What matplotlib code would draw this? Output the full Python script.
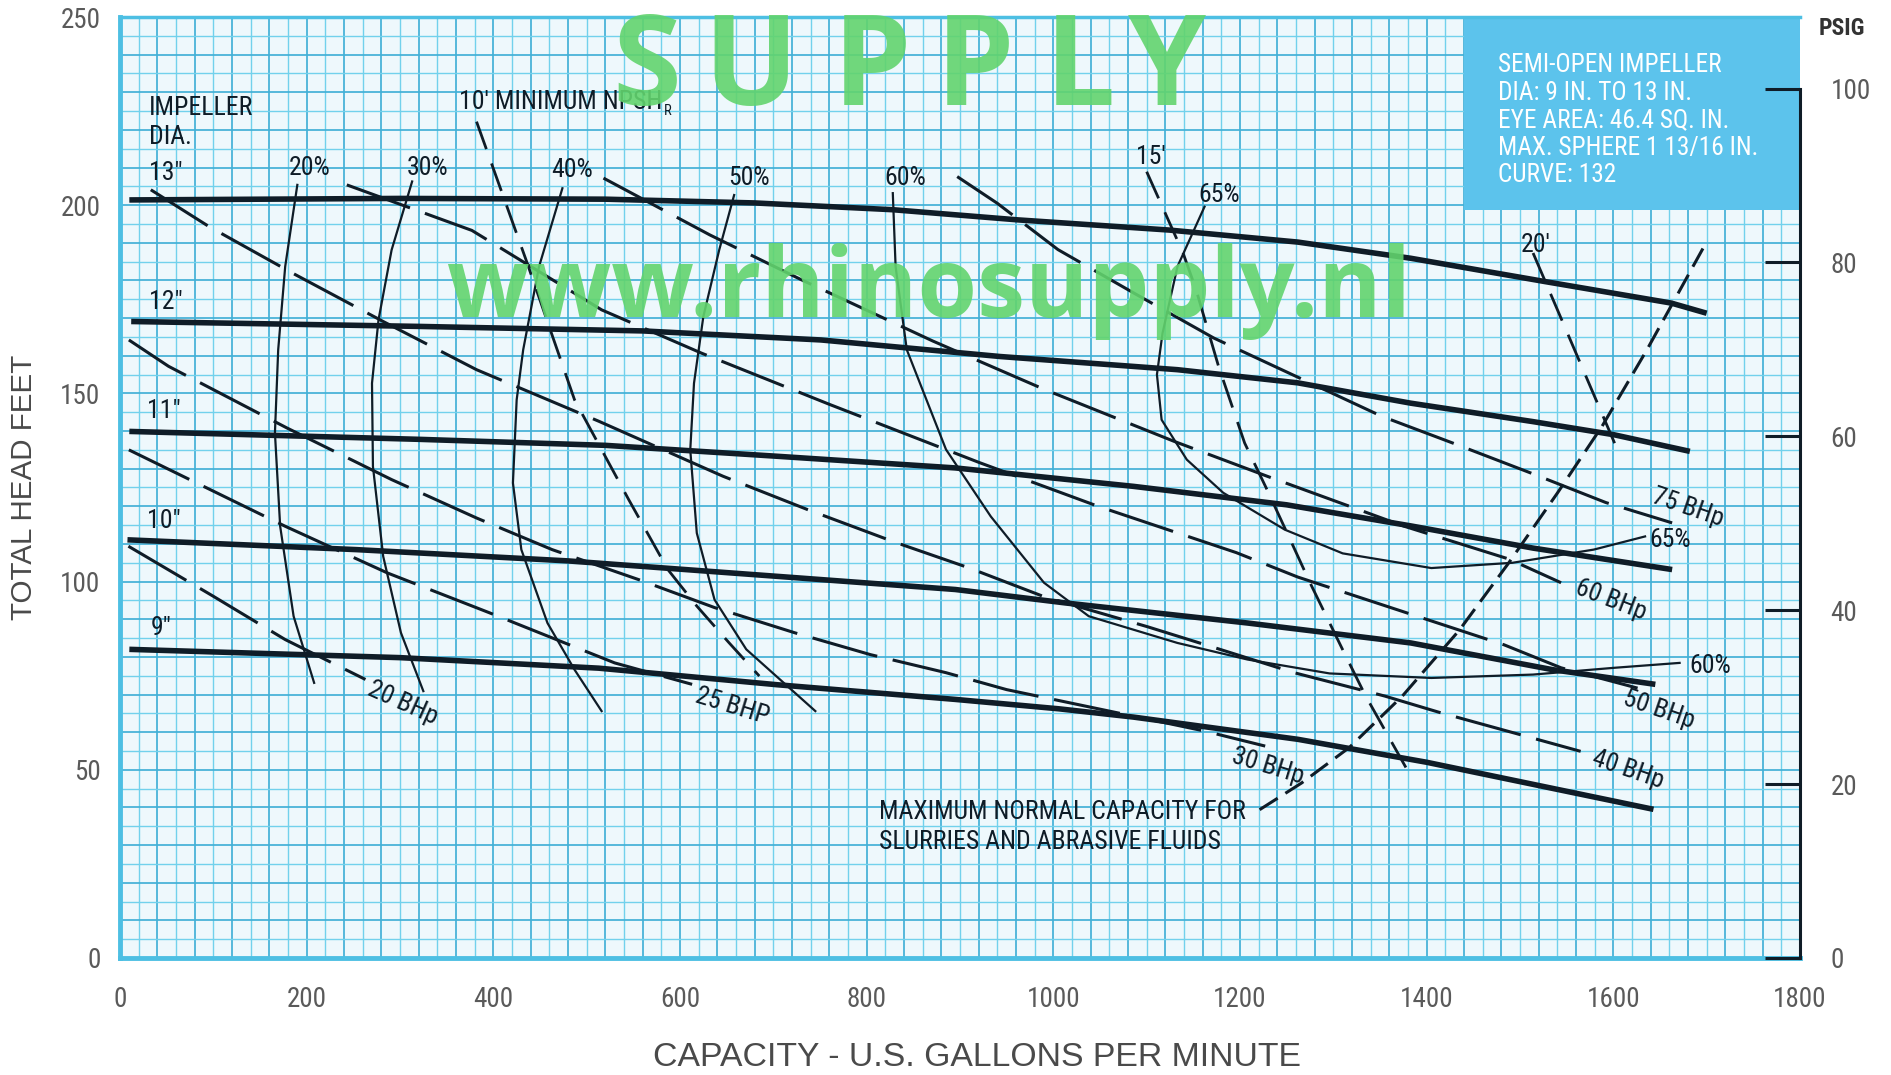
import matplotlib
matplotlib.use("Agg")
import matplotlib.pyplot as plt
from matplotlib import font_manager as fm
from matplotlib.patches import Rectangle
import numpy as np

# ---------------------------------------------------------------- data
# head-capacity curves per impeller diameter: (US gpm, total head ft)
imp_13 = [(10, 201.4), (300, 201.8), (520, 201.6), (680, 200.6), (828, 198.8), (962, 196.1), (1124, 193.4),
          (1262, 190.2), (1383, 185.9), (1527, 179.7), (1662, 174.0), (1700, 171.3)]
imp_12 = [(12, 169.1), (320, 167.8), (560, 166.6), (751, 164.2), (943, 159.8), (1133, 156.3),
          (1262, 152.8), (1383, 147.4), (1514, 142.5), (1601, 139.0), (1682, 134.6)]
imp_11 = [(10, 139.9), (320, 137.8), (520, 136.2), (704, 133.3), (895, 130.2), (1086, 125.3),
          (1250, 120.4), (1383, 114.8), (1514, 108.9), (1663, 103.2)]
imp_10 = [(8, 111.1), (253, 108.5), (480, 105.5), (704, 101.4), (895, 97.9), (1014, 94.3),
          (1208, 89.0), (1383, 83.7), (1535, 76.6), (1645, 72.7)]
imp_9 = [(10, 82.0), (300, 79.8), (513, 77.0), (704, 72.6), (895, 68.7), (1006, 66.2),
         (1086, 64.0), (1262, 58.1), (1400, 52.0), (1643, 39.5)]
impeller_curves = [imp_13, imp_12, imp_11, imp_10, imp_9]
impeller_labels = ['13"', '12"', '11"', '10"', '9"']
impeller_label_pos = [(31, 208.5), (31, 174.4), (29, 145.2), (29, 116.0), (33, 87.7)]

# efficiency iso-lines
eff_20 = [(190, 205.4), (177, 183.7), (169.5, 161.6), (166, 139.5), (171.6, 114.7), (186, 90.8), (208, 73.1)]
eff_30 = [(313, 206.3), (291, 188.1), (277, 169.6), (270, 152.7), (271, 130.6), (282, 106.7), (301, 86.4), (325, 70.9)]
eff_40 = [(474, 204.5), (449, 183.7), (432, 161.6), (425, 148.3), (421, 126.2), (430, 108.5), (458, 89.0),
          (487, 76.6), (516, 65.6)]
eff_50 = [(658, 202.7), (642, 188.1), (625, 170.4), (615, 152.7), (611, 135.0), (618, 112.9), (637, 95.2),
          (671, 82.0), (745, 65.6)]
eff_60 = [(828, 203.2), (831, 183.7), (843, 161.6), (885, 135.1), (933, 117.3), (990, 99.7), (1038, 90.8),
          (1133, 83.7), (1208, 79.3), (1296, 75.6), (1405, 74.4), (1514, 75.3), (1601, 77.1), (1671, 78.4)]
eff_65 = [(1162, 199.6), (1133, 183.7), (1117, 166.0), (1111, 155.0), (1116, 143.0), (1143, 132.4),
          (1182, 123.6), (1248, 113.8), (1310, 107.5), (1405, 103.6), (1492, 105.0), (1579, 108.5), (1634, 112.0)]
efficiency_curves = [eff_20, eff_30, eff_40, eff_50, eff_60, eff_65]
efficiency_labels = ["20%", "30%", "40%", "50%", "60%", "65%"]
efficiency_label_pos = [(203, 209.8), (330, 209.8), (484, 209.4), (674, 207.1), (841, 207.1), (1178, 202.7)]

# brake horsepower iso-lines
bhp_20 = [(9, 109.4), (100, 96.1), (177, 84.6), (263, 74.0)]
bhp_25 = [(9.5, 135.0), (177, 114.7), (286.5, 102.3), (396, 91.7), (530, 78.4), (613, 72.7)]
bhp_30 = [(9.5, 164.2), (52, 157.2), (179, 140.8), (291, 127.1), (382, 116.9), (463, 108.5), (556, 100.5),
          (637, 93.1), (723, 86.4), (804, 80.6), (885, 75.8), (950, 71.3), (1162, 60.3), (1227, 56.3)]
bhp_40 = [(33, 204.1), (95.5, 194.3), (186, 181.8), (282, 169.1), (382, 156.3), (513, 142.6), (646, 128.0),
          (737, 119.1), (831, 110.4), (909, 103.7), (990, 96.0), (1101, 88.0), (1167, 82.9), (1258, 75.8),
          (1355, 69.6), (1413, 65.3), (1492, 59.9), (1565, 54.9)]
bhp_50 = [(243, 205.4), (377, 193.3), (516, 172.2), (623, 160.7), (761, 147.0), (921, 131.6), (1048, 120.0),
          (1196, 107.7), (1262, 101.2), (1483, 83.2), (1544, 77.1), (1626, 71.7)]
bhp_60 = [(518, 207.2), (632, 192.1), (730, 180.2), (871, 163.9), (990, 151.1), (1129, 137.3), (1229, 128.0),
          (1376, 114.7), (1488, 106.0), (1544, 99.7)]
bhp_75 = [(897, 207.6), (940, 200.5), (1005, 188.2), (1086, 176.7), (1172, 164.7), (1262, 154.3),
          (1352, 143.9), (1427, 136.9), (1510, 129.0), (1592, 121.0), (1663, 115.6)]
bhp_curves = [bhp_20, bhp_25, bhp_30, bhp_40, bhp_50, bhp_60, bhp_75]
bhp_labels = ["20 BHp", "25 BHP", "30 BHp", "40 BHp", "50 BHp", "60 BHp", "75 BHp"]
bhp_label_pos = [(303, 67.8), (656, 66.9), (1230, 51.0), (1616, 50.1), (1649, 66.0), (1597, 95.2), (1680, 119.7)]
bhp_label_rot = [-24, -17, -17, -19, -19, -21, -19]

# required NPSH lines
npsh_10 = [(382, 222.2), (435, 185.5), (487, 148.3), (545, 121.8), (587, 103.2), (618, 93.5), (652, 83.9), (685, 74.9)]
npsh_15 = [(1100, 208.9), (1139, 187.3), (1153, 177.5), (1177, 157.2), (1205, 136.8), (1229, 124.4),
           (1255, 110.5), (1275, 99.7), (1311, 81.4), (1334, 69.9), (1383, 48.3)]
npsh_20 = [(1514, 187.3), (1606, 134.1)]

# maximum normal capacity for slurries
max_slurry = [(1221, 39.4), (1266, 46.5), (1317, 55.9), (1374, 69.6), (1435, 87.1), (1488, 105.0),
              (1540, 123.5), (1588, 141.3), (1636, 161.6), (1696, 188.5)]

x_ticks = [0, 200, 400, 600, 800, 1000, 1200, 1400, 1600, 1800]
y_ticks = [0, 50, 100, 150, 200, 250]
psig_ticks = [0, 20, 40, 60, 80, 100]
FT_PER_PSI = 2.31

info_lines = ["SEMI-OPEN IMPELLER", "DIA: 9 IN. TO 13 IN.", "EYE AREA: 46.4 SQ. IN.",
              "MAX. SPHERE 1 13/16 IN.", "CURVE: 132"]


# ---------------------------------------------------------------- fonts
def condensed_font(bold=False):
    """Return FontProperties for a narrow sans face, falling back to a regular one."""
    prefs = ["LiberationSansNarrow", "RobotoCondensed", "Roboto_Condensed", "NotoSans-Condensed",
             "OpenSans-Condensed", "OpenSans_Condensed", "DejaVuSansCondensed"]
    files = [f.fname for f in fm.fontManager.ttflist]
    for key in prefs:
        for path in files:
            base = path.split("/")[-1]
            if key not in base.replace(" ", ""):
                continue
            if "Italic" in base or "Oblique" in base:
                continue
            is_bold = "Bold" in base
            if bold != is_bold:
                continue
            if any(w in base for w in ("Semi", "Extra", "Light", "Thin", "Medium", "Black")):
                continue
            return fm.FontProperties(fname=path)
    return fm.FontProperties(family=["Liberation Sans", "DejaVu Sans"],
                             weight="bold" if bold else "normal")


NARROW = condensed_font()
NARROW_BOLD = condensed_font(bold=True)
SANS = ["Liberation Sans", "DejaVu Sans"]
INK = "#0f1c27"


def fp(size, bold=False):
    f = (NARROW_BOLD if bold else NARROW).copy()
    f.set_size(size)
    return f


lbl = dict(fontproperties=fp(18.5), color=INK, zorder=6)

# ---------------------------------------------------------------- figure
W, H = 1891, 1075
fig = plt.figure(figsize=(W / 100, H / 100), dpi=100)
fig.patch.set_facecolor("white")
ax = fig.add_axes([120 / W, 1 - 958 / H, 1680 / W, 941 / H])
ax.set_xlim(0, 1800)
ax.set_ylim(0, 250)
ax.set_facecolor("#eef8fc")

# graph-paper grid
for gx in np.arange(20, 1800, 20):
    dark = gx % 40 == 0
    ax.axvline(gx, color="#43b0d6" if dark else "#72d1ec", lw=1.25 if dark else 1.0, zorder=0.5)
for gy in np.arange(5, 250, 5):
    dark = gy % 10 == 0
    ax.axhline(gy, color="#43b0d6" if dark else "#72d1ec", lw=1.25 if dark else 1.0, zorder=0.5)
ax.axvline(1800, color="#72d1ec", lw=1.2, zorder=0.5)

for side in ("left", "bottom", "top"):
    ax.spines[side].set_color("#4dbfe3")
ax.spines["left"].set_linewidth(3.5)
ax.spines["bottom"].set_linewidth(3.5)
ax.spines["top"].set_linewidth(2.5)
ax.spines["right"].set_visible(False)

ax.set_xticks(x_ticks)
ax.set_yticks(y_ticks)
ax.tick_params(axis="x", length=0, pad=20, labelcolor="#5a5a5a")
ax.tick_params(axis="y", length=0, pad=14, labelcolor="#5a5a5a")
for t in ax.get_xticklabels() + ax.get_yticklabels():
    t.set_fontproperties(fp(19.5))

# information panel
ax.add_patch(Rectangle((1440, 198.8), 360, 51.2, facecolor="#5cc3ec", edgecolor="none", zorder=1))
for i, line in enumerate(info_lines):
    ax.text(1476, 237.2 - i * 7.3, line, fontproperties=fp(18.3), color="white",
            va="center", ha="left", zorder=2)

# curves
for c in impeller_curves:
    q, h = zip(*c)
    ax.plot(q, h, color=INK, lw=4.0, solid_capstyle="butt", solid_joinstyle="round", zorder=4)
for c in efficiency_curves:
    q, h = zip(*c)
    ax.plot(q, h, color=INK, lw=1.6, solid_joinstyle="round", zorder=4)
for c in bhp_curves:
    q, h = zip(*c)
    ax.plot(q, h, color=INK, lw=2.2, linestyle=(0, (22, 5.2)), zorder=4)
for c in (npsh_10, npsh_15, npsh_20):
    q, h = zip(*c)
    ax.plot(q, h, color=INK, lw=2.0, linestyle=(0, (10.5, 5.5)), zorder=4)
q, h = zip(*max_slurry)
ax.plot(q, h, color=INK, lw=2.2, linestyle=(0, (7, 3)), zorder=4)

# labels
ax.text(31, 225.7, "IMPELLER", ha="left", va="center", **lbl)
ax.text(31, 218.2, "DIA.", ha="left", va="center", **lbl)
for s, (x, y) in zip(impeller_labels, impeller_label_pos):
    ax.text(x, y, s, ha="left", va="center", **lbl)
for s, (x, y) in zip(efficiency_labels, efficiency_label_pos):
    ax.text(x, y, s, ha="center", va="center", **lbl)
ax.text(1639, 111.1, "65%", ha="left", va="center", **lbl)
ax.text(1681, 77.5, "60%", ha="left", va="center", **lbl)
for s, (x, y), r in zip(bhp_labels, bhp_label_pos, bhp_label_rot):
    ax.text(x, y, s, ha="center", va="center", rotation=r, rotation_mode="anchor", **lbl)
npsh_txt = ax.text(363, 227.5, "10' MINIMUM NPSH", ha="left", va="center", **lbl)
ax.annotate("R", xy=(1.0, 0.12), xycoords=npsh_txt, xytext=(1.5, 0), textcoords="offset points",
            ha="left", va="center", fontproperties=fp(10.5), color=INK, zorder=6)
ax.text(1105, 212.9, "15'", ha="center", va="center", **lbl)
ax.text(1517, 189.5, "20'", ha="center", va="center", **lbl)
ax.text(813, 38.7, "MAXIMUM NORMAL CAPACITY FOR", ha="left", va="center", **lbl)
ax.text(813, 30.7, "SLURRIES AND ABRASIVE FLUIDS", ha="left", va="center", **lbl)

# pressure scale on the right
ax2 = ax.twinx()
ax2.set_ylim(0, 250 / FT_PER_PSI)
ax2.set_yticks(psig_ticks)
for side in ("left", "bottom", "top"):
    ax2.spines[side].set_visible(False)
ax2.spines["right"].set_bounds(0, 100)
ax2.spines["right"].set_color(INK)
ax2.spines["right"].set_linewidth(2.2)
ax2.tick_params(axis="y", direction="in", length=25, width=2.2, color=INK, pad=22,
                labelcolor="#5a5a5a")
for t in ax2.get_yticklabels():
    t.set_fontproperties(fp(19.5))
ax.text(1.0248, 0.988, "PSIG", transform=ax.transAxes, fontproperties=fp(17, bold=True),
        color="#333333", ha="center", va="center", clip_on=False)

# axis titles
fig.text(977 / W, 1 - 1057 / H, "CAPACITY - U.S. GALLONS PER MINUTE", family=SANS,
         fontsize=24.3, color="#4a4a4a", ha="center", va="center")
fig.text(24 / W, 1 - 487 / H, "TOTAL HEAD FEET", family=SANS, fontsize=21.3,
         color="#4a4a4a", ha="center", va="center", rotation=90)

# site watermark
GREEN = "#62d46e"
for ch, cx in zip("SUPPLY", [647, 751, 872, 975, 1080, 1167]):
    fig.text(cx / W, 1 - 105 / H, ch, family=["Open Sans", "DejaVu Sans"], fontweight="bold",
             fontsize=90, color=GREEN, alpha=0.9, ha="center", va="baseline", zorder=10)
fig.text(446 / W, 1 - 317 / H, "www.rhinosupply.nl", family=["Open Sans", "DejaVu Sans"],
         fontweight="bold", fontsize=69.5, color=GREEN, alpha=0.9, ha="left", va="baseline", zorder=10)

fig.savefig("out.png", dpi=100, facecolor="white")
